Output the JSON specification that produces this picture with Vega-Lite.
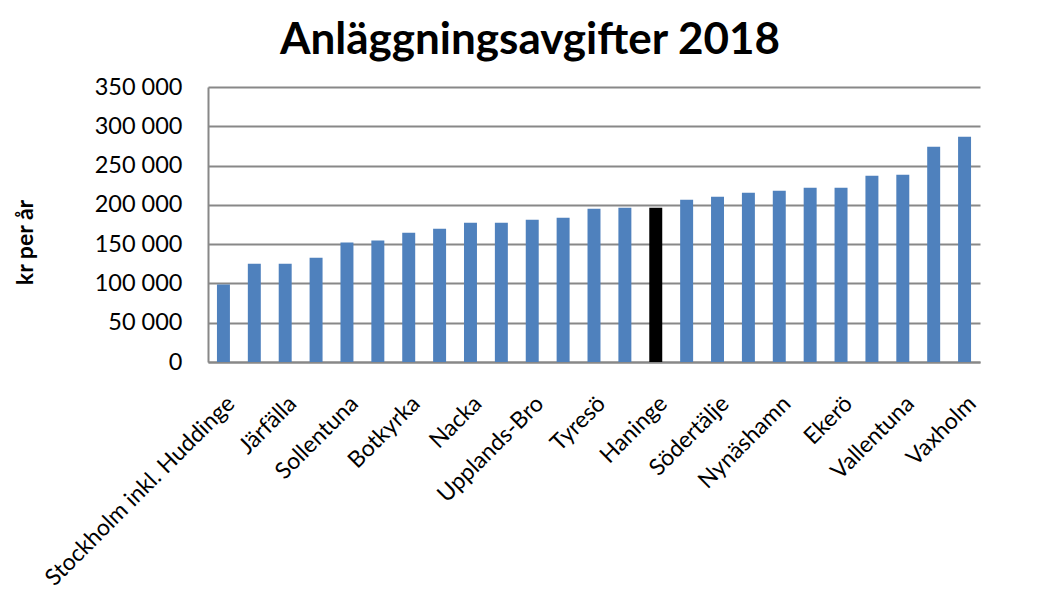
{
  "$schema": "https://vega.github.io/schema/vega-lite/v6.json",
  "autosize": {"type": "none"},
  "width": 772,
  "height": 275,
  "padding": {"left": 208, "top": 87, "right": 72, "bottom": 232},
  "background": "white",
  "title": {
    "text": "Anläggningsavgifter 2018",
    "font": "Lato",
    "fontSize": 44,
    "fontWeight": "bold",
    "color": "black",
    "anchor": "middle",
    "dx": -64,
    "offset": 12
  },
  "data": {
    "values": [
      {"kommun": "Stockholm inkl. Huddinge", "avgift": 98500, "haninge": "nej"},
      {"kommun": "Solna", "avgift": 125000, "haninge": "nej"},
      {"kommun": "Järfälla", "avgift": 125000, "haninge": "nej"},
      {"kommun": "Sundbyberg", "avgift": 132700, "haninge": "nej"},
      {"kommun": "Sollentuna", "avgift": 152000, "haninge": "nej"},
      {"kommun": "Lidingö", "avgift": 154500, "haninge": "nej"},
      {"kommun": "Botkyrka", "avgift": 164600, "haninge": "nej"},
      {"kommun": "Danderyd", "avgift": 169700, "haninge": "nej"},
      {"kommun": "Nacka", "avgift": 177300, "haninge": "nej"},
      {"kommun": "Täby", "avgift": 177300, "haninge": "nej"},
      {"kommun": "Upplands-Bro", "avgift": 181100, "haninge": "nej"},
      {"kommun": "Sigtuna", "avgift": 183700, "haninge": "nej"},
      {"kommun": "Tyresö", "avgift": 195100, "haninge": "nej"},
      {"kommun": "Upplands Väsby", "avgift": 196400, "haninge": "nej"},
      {"kommun": "Haninge", "avgift": 196400, "haninge": "ja"},
      {"kommun": "Salem", "avgift": 206600, "haninge": "nej"},
      {"kommun": "Södertälje", "avgift": 210400, "haninge": "nej"},
      {"kommun": "Nykvarn", "avgift": 215500, "haninge": "nej"},
      {"kommun": "Nynäshamn", "avgift": 218000, "haninge": "nej"},
      {"kommun": "Värmdö", "avgift": 221800, "haninge": "nej"},
      {"kommun": "Ekerö", "avgift": 221800, "haninge": "nej"},
      {"kommun": "Österåker", "avgift": 237100, "haninge": "nej"},
      {"kommun": "Vallentuna", "avgift": 238400, "haninge": "nej"},
      {"kommun": "Norrtälje", "avgift": 274000, "haninge": "nej"},
      {"kommun": "Vaxholm", "avgift": 286700, "haninge": "nej"}
    ]
  },
  "mark": {"type": "bar"},
  "encoding": {
    "x": {
      "field": "kommun",
      "type": "nominal",
      "sort": null,
      "scale": {"paddingInner": 0.58, "paddingOuter": 0.29},
      "axis": {
        "title": null,
        "values": ["Stockholm inkl. Huddinge", "Järfälla", "Sollentuna", "Botkyrka", "Nacka", "Upplands-Bro", "Tyresö", "Haninge", "Södertälje", "Nynäshamn", "Ekerö", "Vallentuna", "Vaxholm"],
        "labelAngle": -45,
        "labelAlign": "right",
        "labelBaseline": "top",
        "labelFont": "Lato",
        "labelFontSize": 23,
        "labelColor": "black",
        "labelPadding": 30,
        "labelLimit": 0,
        "labelOverlap": false,
        "ticks": false,
        "domainColor": "#888888",
        "domainWidth": 2
      }
    },
    "y": {
      "field": "avgift",
      "type": "quantitative",
      "scale": {"domain": [0, 350000], "nice": false},
      "axis": {
        "title": "kr per år",
        "titleFont": "Lato",
        "titleFontSize": 23,
        "titleFontWeight": "bold",
        "titleColor": "black",
        "titleAngle": 270,
        "titleAlign": "center",
        "titleBaseline": "middle",
        "titleX": -183,
        "titleY": 155,
        "values": [0, 50000, 100000, 150000, 200000, 250000, 300000, 350000],
        "labelExpr": "replace(format(datum.value, ','), ',', ' ')",
        "labelFont": "Lato",
        "labelFontSize": 23.5,
        "labelColor": "black",
        "labelPadding": 26,
        "ticks": false,
        "grid": true,
        "gridColor": "#888888",
        "gridWidth": 2,
        "domainColor": "#888888",
        "domainWidth": 2
      }
    },
    "color": {
      "field": "haninge",
      "type": "nominal",
      "scale": {"domain": ["nej", "ja"], "range": ["#4F81BD", "#000000"]},
      "legend": null
    }
  },
  "config": {
    "view": {"stroke": null}
  }
}
